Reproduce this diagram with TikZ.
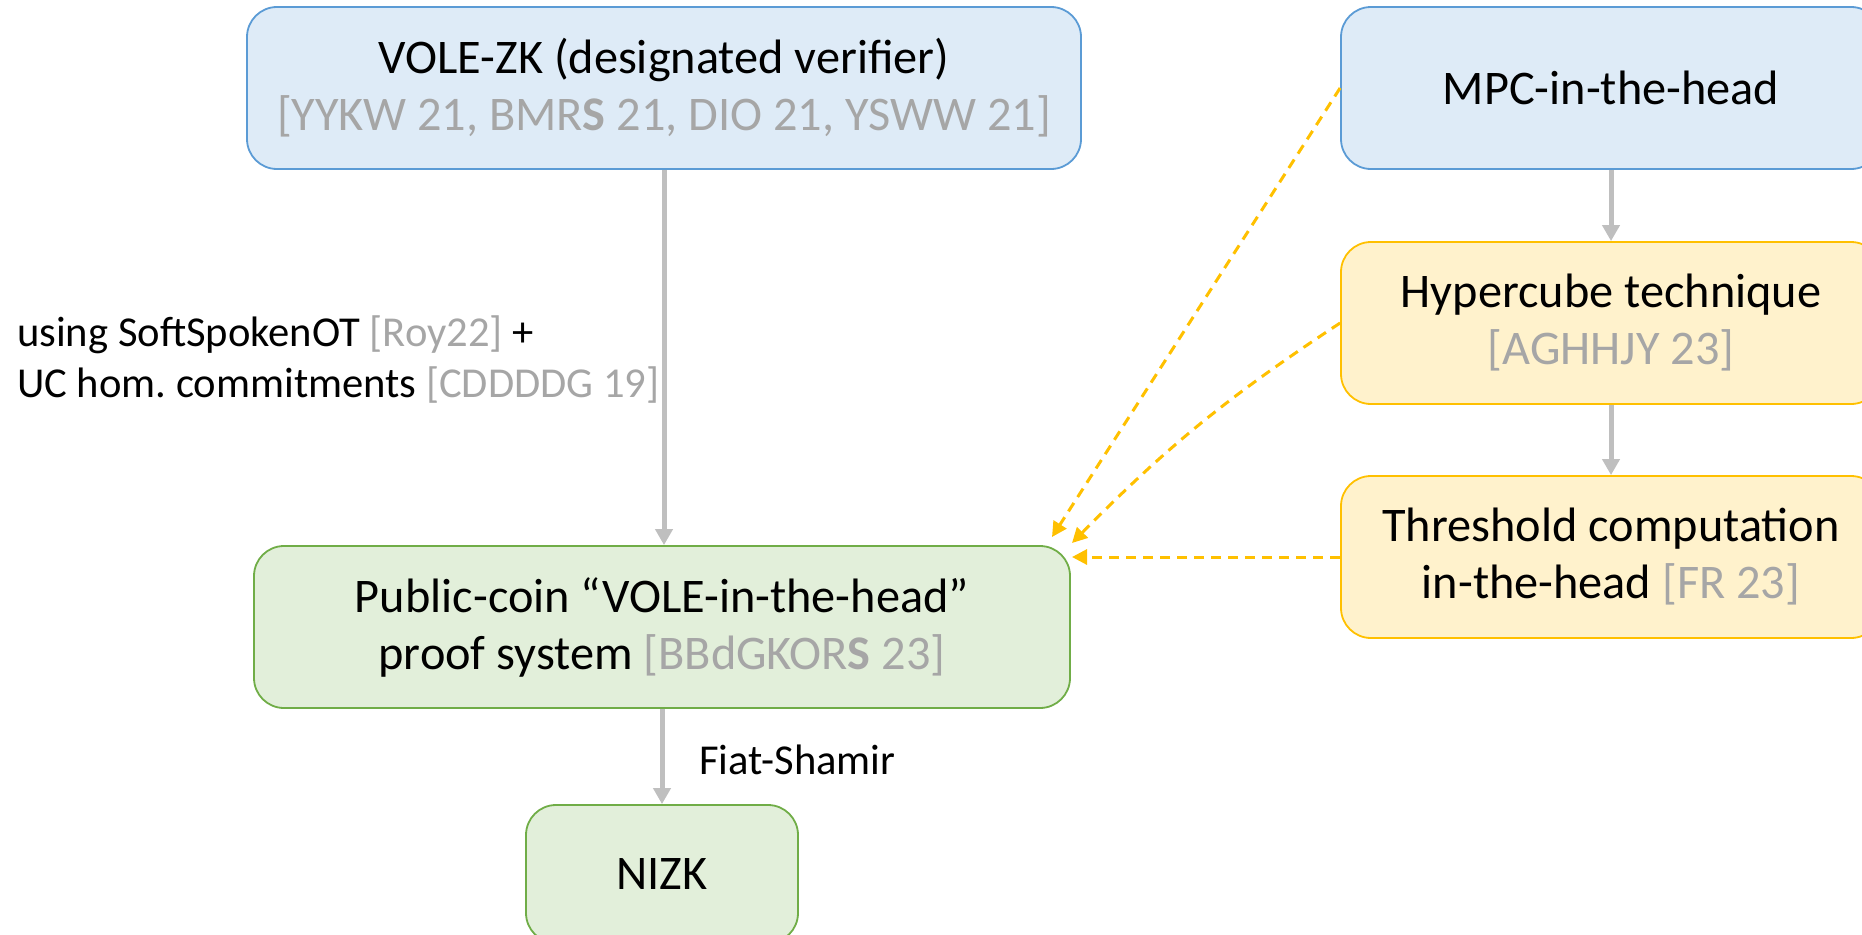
\documentclass[tikz,border=0pt]{standalone}
\usepackage{fontspec}
\setmainfont{Carlito}
\usetikzlibrary{arrows.meta}
\usetikzlibrary{positioning}
\definecolor{boxblue}{HTML}{DEEBF7}
\definecolor{lineblue}{HTML}{5B9BD5}
\definecolor{boxyellow}{HTML}{FFF2CC}
\definecolor{lineyellow}{HTML}{FFC000}
\definecolor{boxgreen}{HTML}{E2EFDA}
\definecolor{linegreen}{HTML}{70AD47}
\definecolor{refgray}{HTML}{A6A6A6}
\definecolor{arrowgray}{HTML}{BFBFBF}
\newcommand{\rf}[1]{{\color{refgray}#1}}

\begin{document}
\begin{tikzpicture}
  [x=1pt,y=-1pt,
  box/.style={rectangle,rounded corners=30pt,line width=1.8pt,inner sep=0pt,minimum height=162pt,align=center,font=\fontsize{48.3}{57}\selectfont},
  bluebox/.style={box,draw=lineblue,fill=boxblue},
  yellowbox/.style={box,draw=lineyellow,fill=boxyellow},
  greenbox/.style={box,draw=linegreen,fill=boxgreen},
  lbl/.style={inner sep=0pt,align=left,font=\fontsize{42.6}{51}\selectfont},
  grayarrow/.style={-{Triangle[width=17pt,length=16pt]},arrowgray,line width=5pt},
  dasharrow/.style={-{Triangle[width=15pt,length=15pt]},lineyellow,line width=3pt,dash pattern=on 10pt off 7pt}]
  \useasboundingbox (0,0) rectangle (1862,934);

  \node[bluebox,minimum width=834pt] (vole) at (664,88) {VOLE-ZK (designated verifier)\\\rf{[YYKW 21, BMR\textbf{S} 21, DIO 21, YSWW 21]}};
  \node[bluebox,minimum width=540pt] (mpc) at (1611,88) {MPC-in-the-head};
  \node[yellowbox,minimum width=540pt] (hyper) at (1611,323) {Hypercube technique\\\rf{[AGHHJY 23]}};
  \node[yellowbox,minimum width=540pt] (thresh) at (1611,557) {Threshold computation\\in-the-head \rf{[FR 23]}};
  \node[greenbox,minimum width=816pt] (pub) at (662,627) {Public-coin “VOLE-in-the-head”\\proof system \rf{[BBdGKOR\textbf{S} 23]}};
  \node[greenbox,minimum width=272pt,minimum height=138pt] (nizk) at (662,874) {NIZK};

  \node[lbl,anchor=west] (softlbl) at (17,360) {using SoftSpokenOT \rf{[Roy22]} +\\UC hom.\ commitments \rf{[CDDDDG 19]}};
  \node[lbl,anchor=west] (fslbl) at (699,760) {Fiat-Shamir};

  \coordinate (tipA) at (1052,537);
  \coordinate (tipB) at (1072,543);
  \coordinate (tipC) at (1072,557);

  \draw[grayarrow] (vole.south) -- (vole.south |- pub.north);
  \draw[grayarrow] (pub.south) -- (nizk.north);
  \draw[grayarrow] (mpc.south) -- (hyper.north);
  \draw[grayarrow] (hyper.south) -- (thresh.north);

  \draw[dasharrow] (mpc.west) -- (tipA);
  \draw[dasharrow] (hyper.west) to[bend right=6] (tipB);
  \draw[dasharrow] (thresh.west) -- (tipC);
\end{tikzpicture}
\end{document}
